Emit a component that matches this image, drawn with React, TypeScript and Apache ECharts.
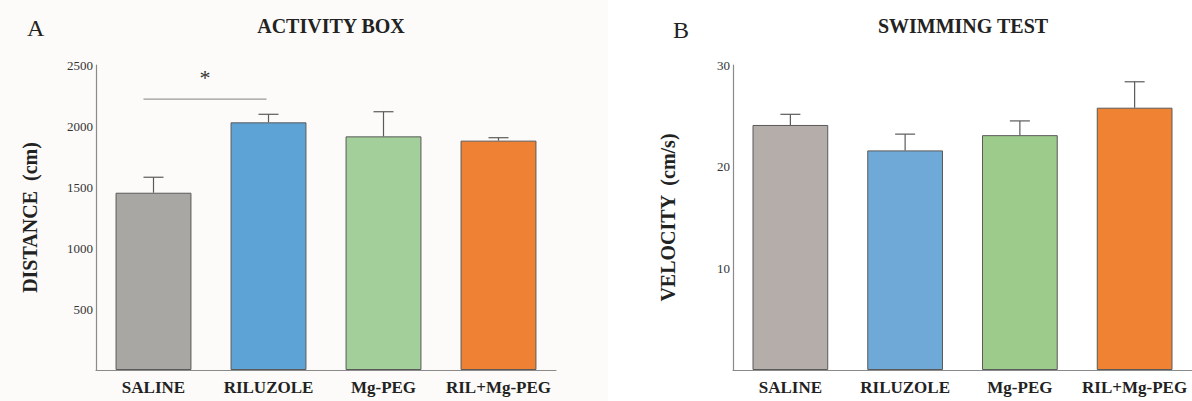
import React, { useEffect, useRef } from "react";
import * as echarts from "echarts";

const categories = ["SALINE", "RILUZOLE", "Mg-PEG", "RIL+Mg-PEG"];
const distanceMeans = [1453, 2030, 1915, 1880];
const distanceErrors = [127, 66, 202, 24];
const velocityMeans = [24.1, 21.6, 23.1, 25.8];
const velocityErrors = [1.05, 1.6, 1.4, 2.55];
const distanceColors = ["#a8a7a4", "#5ea3d5", "#a3d09a", "#ef8135"];
const velocityColors = ["#b4ada9", "#6ea9d7", "#9ccb8b", "#ef8233"];
// significance bracket: [fromIndex, toIndex, level, starLevel]
const bracket = [[0, 1, 2220, 2400]];

const FONT = "'Liberation Serif', serif";

function errorRender(params: any, api: any) {
  const x = api.value(0);
  const mean = api.value(1);
  const err = api.value(2);
  const base = api.coord([x, mean]);
  const top = api.coord([x, mean + err]);
  const style = { stroke: "#5a5a5a", lineWidth: 1.2 };
  return {
    type: "group",
    children: [
      { type: "line", shape: { x1: base[0], y1: base[1], x2: top[0], y2: top[1] }, style },
      { type: "line", shape: { x1: top[0] - 10, y1: top[1], x2: top[0] + 10, y2: top[1] }, style },
    ],
  };
}

function bracketRender(params: any, api: any) {
  const a = api.coord([api.value(0), api.value(2)]);
  const b = api.coord([api.value(1), api.value(2)]);
  const s = api.coord([api.value(0), api.value(3)]);
  const x1 = a[0] - 10;
  const x2 = b[0] - 2;
  return {
    type: "group",
    children: [
      { type: "line", shape: { x1, y1: a[1], x2, y2: a[1] }, style: { stroke: "#9a9a9a", lineWidth: 1.2 } },
      {
        type: "text",
        style: {
          text: "*",
          x: (x1 + x2) / 2,
          y: s[1],
          align: "center",
          verticalAlign: "middle",
          fontSize: 22,
          fontFamily: FONT,
          fill: "#333",
        },
      },
    ],
  };
}

export default function App() {
  const ref = useRef<HTMLDivElement>(null);
  useEffect(() => {
    if (!ref.current) return;
    const chart = echarts.init(ref.current, undefined, { renderer: "svg" });
    const axisLine = { show: true, lineStyle: { color: "#8a8a8a", width: 1.2 } };
    const xAxisBase = (gridIndex: number) => ({
      type: "category",
      gridIndex,
      data: categories,
      axisLine,
      axisTick: { show: false },
      axisLabel: { interval: 0, margin: 9, fontFamily: FONT, fontWeight: "bold", fontSize: 17, color: "#222" },
    });
    const yLabel = {
      fontFamily: FONT,
      fontSize: 13,
      color: "#333",
      margin: 3,
      formatter: (v: number) => (v === 0 ? "" : String(v)),
    };
    const yName = { fontFamily: FONT, fontWeight: "bold", fontSize: 20, color: "#222" };
    chart.setOption({
      animation: false,
      backgroundColor: "#ffffff",
      graphic: [
        { type: "rect", z: -10, shape: { x: 0, y: 0, width: 608, height: 401 }, style: { fill: "#fcfbf9" }, silent: true },
      ],
      title: [
        { text: "ACTIVITY BOX", left: 326, textAlign: "center", top: 11, textStyle: { fontFamily: FONT, fontWeight: "bold", fontSize: 20, color: "#222" } },
        { text: "SWIMMING TEST", left: 958, textAlign: "center", top: 11, textStyle: { fontFamily: FONT, fontWeight: "bold", fontSize: 20, color: "#222" } },
        { text: "A", left: 22, top: 11, textStyle: { fontFamily: FONT, fontWeight: "normal", fontSize: 24, color: "#222" } },
        { text: "B", left: 668, top: 13, textStyle: { fontFamily: FONT, fontWeight: "normal", fontSize: 24, color: "#222" } },
      ],
      grid: [
        { left: 96, top: 65, width: 460, height: 305 },
        { left: 733, top: 65, width: 460, height: 305 },
      ],
      xAxis: [xAxisBase(0), xAxisBase(1)],
      yAxis: [
        {
          type: "value",
          gridIndex: 0,
          min: 0,
          max: 2500,
          interval: 500,
          axisLine,
          axisTick: { show: false },
          splitLine: { show: false },
          axisLabel: yLabel,
          name: "DISTANCE  (cm)",
          nameLocation: "middle",
          nameGap: 56,
          nameTextStyle: yName,
        },
        {
          type: "value",
          gridIndex: 1,
          min: 0,
          max: 30,
          interval: 10,
          axisLine,
          axisTick: { show: false },
          splitLine: { show: false },
          axisLabel: yLabel,
          name: "VELOCITY  (cm/s)",
          nameLocation: "middle",
          nameGap: 55,
          nameTextStyle: yName,
        },
      ],
      series: [
        {
          type: "bar",
          xAxisIndex: 0,
          yAxisIndex: 0,
          barWidth: "66%",
          data: distanceMeans.map((v, i) => ({
            value: v,
            itemStyle: { color: distanceColors[i], borderColor: "#5a5a5a", borderWidth: 1 },
          })),
        },
        {
          type: "custom",
          xAxisIndex: 0,
          yAxisIndex: 0,
          renderItem: errorRender,
          encode: { x: 0, y: 1 },
          data: distanceMeans.map((v, i) => [i, v, distanceErrors[i]]),
          z: 3,
        },
        {
          type: "custom",
          xAxisIndex: 0,
          yAxisIndex: 0,
          renderItem: bracketRender,
          encode: { x: 0, y: 2 },
          data: bracket,
          z: 3,
        },
        {
          type: "bar",
          xAxisIndex: 1,
          yAxisIndex: 1,
          barWidth: "66%",
          data: velocityMeans.map((v, i) => ({
            value: v,
            itemStyle: { color: velocityColors[i], borderColor: "#5a5a5a", borderWidth: 1 },
          })),
        },
        {
          type: "custom",
          xAxisIndex: 1,
          yAxisIndex: 1,
          renderItem: errorRender,
          encode: { x: 0, y: 1 },
          data: velocityMeans.map((v, i) => [i, v, velocityErrors[i]]),
          z: 3,
        },
      ],
    });
    return () => chart.dispose();
  }, []);
  return (
    <div
      ref={ref}
      style={{ position: "fixed", left: 0, top: 0, width: 1192, height: 401 }}
    />
  );
}
